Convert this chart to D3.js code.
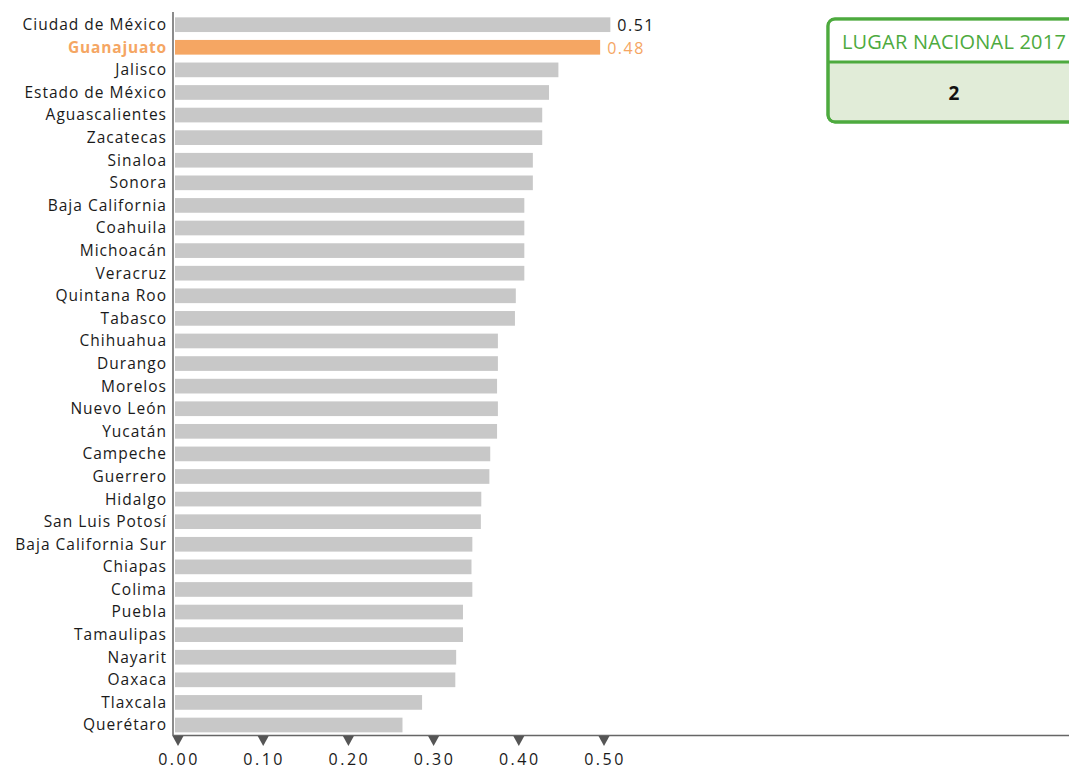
<!DOCTYPE html>
<html><head><meta charset="utf-8">
<script src="https://cdn.jsdelivr.net/npm/d3@7"></script>
<style>
html,body{margin:0;padding:0;background:#fff;}
svg{display:block;font-family:"Open Sans", "Noto Sans", sans-serif;}
</style></head>
<body><svg id="c" width="1069" height="770"></svg>
<script>
const states = ["Ciudad de México","Guanajuato","Jalisco","Estado de México","Aguascalientes","Zacatecas","Sinaloa","Sonora","Baja California","Coahuila","Michoacán","Veracruz","Quintana Roo","Tabasco","Chihuahua","Durango","Morelos","Nuevo León","Yucatán","Campeche","Guerrero","Hidalgo","San Luis Potosí","Baja California Sur","Chiapas","Colima","Puebla","Tamaulipas","Nayarit","Oaxaca","Tlaxcala","Querétaro"];
const values = [0.511,0.499,0.450,0.439,0.431,0.431,0.420,0.420,0.410,0.410,0.410,0.410,0.400,0.399,0.379,0.379,0.378,0.379,0.378,0.370,0.369,0.3595,0.359,0.349,0.348,0.349,0.338,0.338,0.330,0.329,0.290,0.267];
const highlight = "Guanajuato";
const valueLabels = [{state:"Ciudad de México", text:"0.51"},{state:"Guanajuato", text:"0.48"}];
const ticks = [0,0.1,0.2,0.3,0.4,0.5];
const boxTitle = "LUGAR NACIONAL 2017";
const boxValue = "2";

const svg = d3.select("#c");
const data = states.map((s,i)=>({state:s, value:values[i]}));
const x = d3.scaleLinear().domain([0,0.5]).range([175,601]);
const y = d3.scaleBand().domain(states).range([13.4,736.3]).paddingInner(0.35).paddingOuter(0.175);
const orange = "#F5A663", gray = "#C8C8C8";

svg.append("g").selectAll("rect").data(data).join("rect")
  .attr("x", x(0)).attr("y", d=>y(d.state))
  .attr("width", d=>x(d.value)-x(0)).attr("height", y.bandwidth())
  .attr("fill", d=>d.state===highlight?orange:gray);

// category labels
svg.append("g").selectAll("text").data(data).join("text")
  .attr("x", 167).attr("y", d=>y(d.state)+y.bandwidth()/2)
  .attr("dy","0.35em").attr("text-anchor","end")
  .attr("font-size",15.5)
  .attr("letter-spacing", d=>d.state===highlight?0.8:1.0)
  .attr("font-weight", d=>d.state===highlight?"bold":"normal")
  .attr("fill", d=>d.state===highlight?orange:"#1a1a1a")
  .text(d=>d.state);

// value labels
svg.append("g").selectAll("text").data(valueLabels).join("text")
  .attr("x", d=>x(values[states.indexOf(d.state)])+7)
  .attr("y", d=>y(d.state)+y.bandwidth()/2+1)
  .attr("dy","0.35em").attr("font-size",16).attr("letter-spacing",1.5)
  .attr("fill", d=>d.state===highlight?orange:"#1a1a1a")
  .text(d=>d.text);

// axes lines
svg.append("line").attr("x1",173).attr("x2",173).attr("y1",12).attr("y2",736).attr("stroke","#666").attr("stroke-width",1.5);
svg.append("line").attr("x1",173).attr("x2",1069).attr("y1",735.5).attr("y2",735.5).attr("stroke","#666").attr("stroke-width",1.5);

// tick triangles + labels
const tg = svg.append("g").selectAll("g").data(ticks).join("g")
  .attr("transform", d=>`translate(${x(d)+3},0)`);
tg.append("path").attr("d","M-5.5,736 L5.5,736 L0,746 Z").attr("fill","#555");
tg.append("text").attr("x",1).attr("y",759).attr("dy","0.35em").attr("text-anchor","middle")
  .attr("font-size",16).attr("letter-spacing",2.5).attr("fill","#1a1a1a").text(d=>d3.format(".2f")(d));

// box
const green = "#4DAA3E";
const bx = 828, by = 19, bw = 260, bh = 103;
svg.append("rect").attr("x",bx).attr("y",by).attr("width",bw).attr("height",bh).attr("rx",7)
  .attr("fill","#E1ECD8").attr("stroke",green).attr("stroke-width",3);
svg.append("path").attr("d",`M${bx+1.5},${by+1.5} H${bx+bw} V${by+43} H${bx+1.5} Z`).attr("fill","#fff");
svg.append("line").attr("x1",bx).attr("x2",1069).attr("y1",62).attr("y2",62).attr("stroke",green).attr("stroke-width",3);
svg.append("rect").attr("x",bx).attr("y",by).attr("width",bw).attr("height",bh).attr("rx",7)
  .attr("fill","none").attr("stroke",green).attr("stroke-width",3);
svg.append("text").attr("x",954).attr("y",42).attr("dy","0.35em").attr("text-anchor","middle")
  .attr("font-size",20).attr("letter-spacing",0.2).attr("fill",green).text(boxTitle);
svg.append("text").attr("x",954).attr("y",93).attr("dy","0.35em").attr("text-anchor","middle")
  .attr("font-size",19).attr("font-weight","bold").attr("fill","#111").text(boxValue);
</script></body></html>
